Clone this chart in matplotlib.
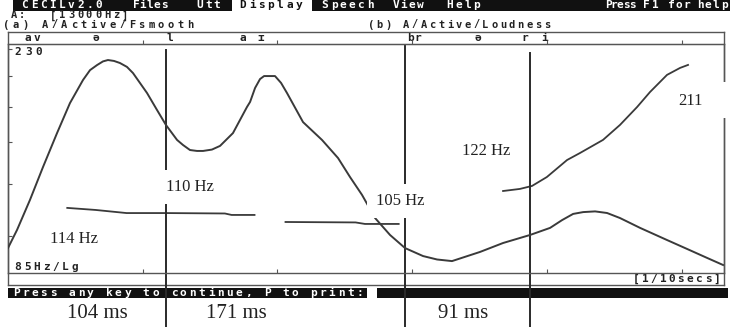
import matplotlib.pyplot as plt
from matplotlib.patches import Rectangle
from matplotlib.ticker import NullLocator

# F0 (Fsmooth) contour, three voiced stretches: time in ms, pitch in Hz
f0_t1 = [44, 65, 88, 117, 161, 166, 183]
f0_hz1 = [112.8, 111.8, 110.3, 110.3, 110.1, 109.4, 109.4]
f0_t2 = [206, 258, 265, 290]
f0_hz2 = [106.1, 105.9, 105.2, 105.2]
f0_t3 = [367.5, 380, 389, 400, 415, 424.6, 441.7, 454.3, 467, 476.6, 489.2, 498.9, 504.8]
f0_hz3 = [121.4, 122.5, 124.1, 129.0, 138.9, 143.2, 151.6, 161.8, 174.9, 186.7, 201.1, 207.3, 210.0]

# loudness contour, time in ms, relative level (0-100)
loud_t = [0, 6.7, 16.3, 26, 36.4, 46, 55.7, 60.9, 66.1, 70.5, 74.2, 78.7, 83.1, 88.3,
          92.8, 103.2, 110.6, 117.3, 125.5, 129.9, 135.1, 140.3, 144.8, 151.4, 157.4,
          167, 177.4, 179.7, 183.4, 187.1, 190.1, 198.2, 202.7, 207.1, 219,
          233.1, 245, 253.9, 262.8, 272.5, 283.6, 294.7, 308.1, 318.5, 329.6, 350.4,
          367.5, 387.5, 402.4, 411.3, 419.5, 427.0, 435.8, 444.7, 454.3, 469.2, 489.2,
          504.1, 518.9, 530.8]
loud_lv = [10.9, 18.8, 31.9, 46.3, 61.1, 74.2, 84.3, 88.6, 90.8, 92.4, 93.0, 92.6, 91.7, 90.0,
           87.3, 78.6, 71.2, 64.6, 58.1, 55.9, 53.7, 53.3, 53.3, 53.9, 55.5,
           61.1, 72.5, 74.7, 80.8, 84.7, 86.0, 86.0, 83.0, 78.6, 65.9,
           58.1, 50.2, 41.9, 34.1, 24.0, 16.6, 10.9, 7.4, 5.9, 5.2, 9.2,
           13.1, 16.6, 19.7, 23.1, 25.8, 26.6, 26.9, 26.2, 24.0, 19.7, 14.4,
           10.5, 6.6, 3.5]

# segment boundaries (ms) and annotations
bounds_ms = [117.3, 294.7, 387.5]
hz_labels = ["114 Hz", "110 Hz", "105 Hz", "122 Hz", "211"]
dur_labels = ["104 ms", "171 ms", "91 ms"]
yticks_hz = [100, 125, 150, 175, 200, 225]
xticks_ms = [100, 200, 300, 400, 500]

W, H = 731, 327
fig = plt.figure(figsize=(W / 100, H / 100), dpi=100)
fig.patch.set_facecolor('white')

LINE = '#3a3a3a'
FRAME = '#555555'
MONO = ['DejaVu Sans Mono', 'DejaVu Sans']
SERIF = ['Liberation Serif', 'DejaVu Serif']

# background layer in pixel coordinates
bg = fig.add_axes([0, 0, 1, 1])
bg.set_xlim(0, W)
bg.set_ylim(H, 0)
bg.axis('off')
bg.set_zorder(0)


def dos_text(ax, x0, x1, y, s, color='#222222', size=8):
    # spread characters at a fixed pitch like a text-mode screen
    n = len(s)
    step = (x1 - x0) / max(n - 1, 1)
    for i, ch in enumerate(s):
        if ch == ' ':
            continue
        ax.text(x0 + i * step, y, ch, ha='center', va='center', fontsize=size,
                fontweight='bold', family=MONO, color=color)


# menu bar
bg.add_patch(Rectangle((13, 0), 219, 10.5, facecolor='#111111', edgecolor='none'))
bg.add_patch(Rectangle((312, 0), 418, 10.5, facecolor='#111111', edgecolor='none'))
for x0, x1, word in [(25, 99, "CECILv2.0"), (136, 164, "Files"), (200, 217, "Utt"),
                     (325, 370, "Speech"), (396, 420, "View"), (450, 477, "Help"),
                     (608, 632, "Press"), (646, 655, "F1"), (671, 687, "for"), (700, 724, "help")]:
    dos_text(bg, x0, x1, 5, word, color='white')
dos_text(bg, 243, 299, 5, "Display", color='#111111')

dos_text(bg, 14, 22, 15.5, "A:", size=7.5)
dos_text(bg, 53, 125, 15.5, "[13000Hz]", size=7.5)
dos_text(bg, 6, 190, 24.5, "(a) A/Active/Fsmooth", size=7.5)
dos_text(bg, 371, 547, 24.5, "(b) A/Active/Loudness", size=7.5)

# segment labels strip
for x0, x1, lab in [(28, 37, "av"), (96, 96, "ə"), (170, 170, "l"), (243, 243, "a"),
                    (261, 261, "ɪ"), (410, 418, "br"), (478, 478, "ə"), (525, 525, "r"),
                    (545, 545, "i")]:
    dos_text(bg, x0, x1, 38, lab)

dos_text(bg, 18, 39, 52, "230")
dos_text(bg, 18, 75, 267, "85Hz/Lg")
dos_text(bg, 636, 717, 279, "[1/10secs]")

# outer frame
bg.plot([8, 724], [32, 32], color=FRAME, lw=1)
bg.plot([8, 724], [285, 285], color=FRAME, lw=1)
bg.plot([8, 8], [32, 285], color=FRAME, lw=1)
bg.plot([724, 724], [32, 285], color=FRAME, lw=1)

# bottom status bars
bg.add_patch(Rectangle((8, 288), 359, 10, facecolor='#111111', edgecolor='none'))
bg.add_patch(Rectangle((377, 288), 351, 10, facecolor='#111111', edgecolor='none'))
dos_text(bg, 16, 360, 293, "Press any key to continue, P to print:", color='white')

# data axes: F0 on a log frequency scale
ax = fig.add_axes([8 / W, (H - 273) / H, 716 / W, 229 / H])
ax.set_zorder(1)
ax.patch.set_visible(False)
ax.set_xlim(0, 531.5)
ax.set_yscale('log')
ax.set_ylim(85, 230)
ax.set_yticks(yticks_hz)
ax.yaxis.set_minor_locator(NullLocator())
ax.set_yticklabels([])
ax.set_xticks(xticks_ms)
ax.set_xticklabels([])
ax.tick_params(axis='y', direction='in', left=True, right=True, length=3, color=FRAME)
ax.tick_params(axis='x', direction='in', bottom=True, top=False, length=3, color=FRAME)
for sp in ax.spines.values():
    sp.set_color(FRAME)
    sp.set_linewidth(1)
top = ax.secondary_xaxis('top')
top.set_xticks(xticks_ms)
top.set_xticklabels([])
top.tick_params(direction='out', length=3, color=FRAME)
top.spines['top'].set_color(FRAME)

for t, f in [(f0_t1, f0_hz1), (f0_t2, f0_hz2), (f0_t3, f0_hz3)]:
    ax.plot(t, f, color=LINE, lw=1.3)

# boundary lines run down through the status bar
for t, ytop in zip(bounds_ms, [0.974, 0.991, 0.961]):
    ax.plot([t, t], [-0.25, ytop], transform=ax.get_xaxis_transform(),
            clip_on=False, color='#2a2a2a', lw=1.4)

# loudness on its own linear scale
ax2 = ax.twinx()
ax2.set_zorder(2)
ax2.patch.set_visible(False)
ax2.set_ylim(0, 100)
ax2.set_yticks([])
for sp in ax2.spines.values():
    sp.set_visible(False)
ax2.plot(loud_t, loud_lv, color=LINE, lw=1.4, solid_joinstyle='round')

# annotation layer
ov = fig.add_axes([0, 0, 1, 1])
ov.set_xlim(0, W)
ov.set_ylim(H, 0)
ov.axis('off')
ov.set_zorder(3)
ov.patch.set_visible(False)

ov.add_patch(Rectangle((712, 82), 16, 36, facecolor='white', edgecolor='none'))
box = dict(boxstyle='square,pad=0.55', facecolor='white', edgecolor='none')
for (x, y), lab in zip([(74.5, 243), (190, 191), (400, 205), (486, 155), (690, 105)], hz_labels):
    ov.text(x, y, lab, ha='center', va='baseline', fontsize=12, family=SERIF,
            color='#222222', bbox=box)
for x, lab in zip([97, 236, 463], dur_labels):
    ov.text(x, 318, lab, ha='center', va='baseline', fontsize=15, family=SERIF,
            color='#222222')

fig.savefig('out.png', dpi=100)
